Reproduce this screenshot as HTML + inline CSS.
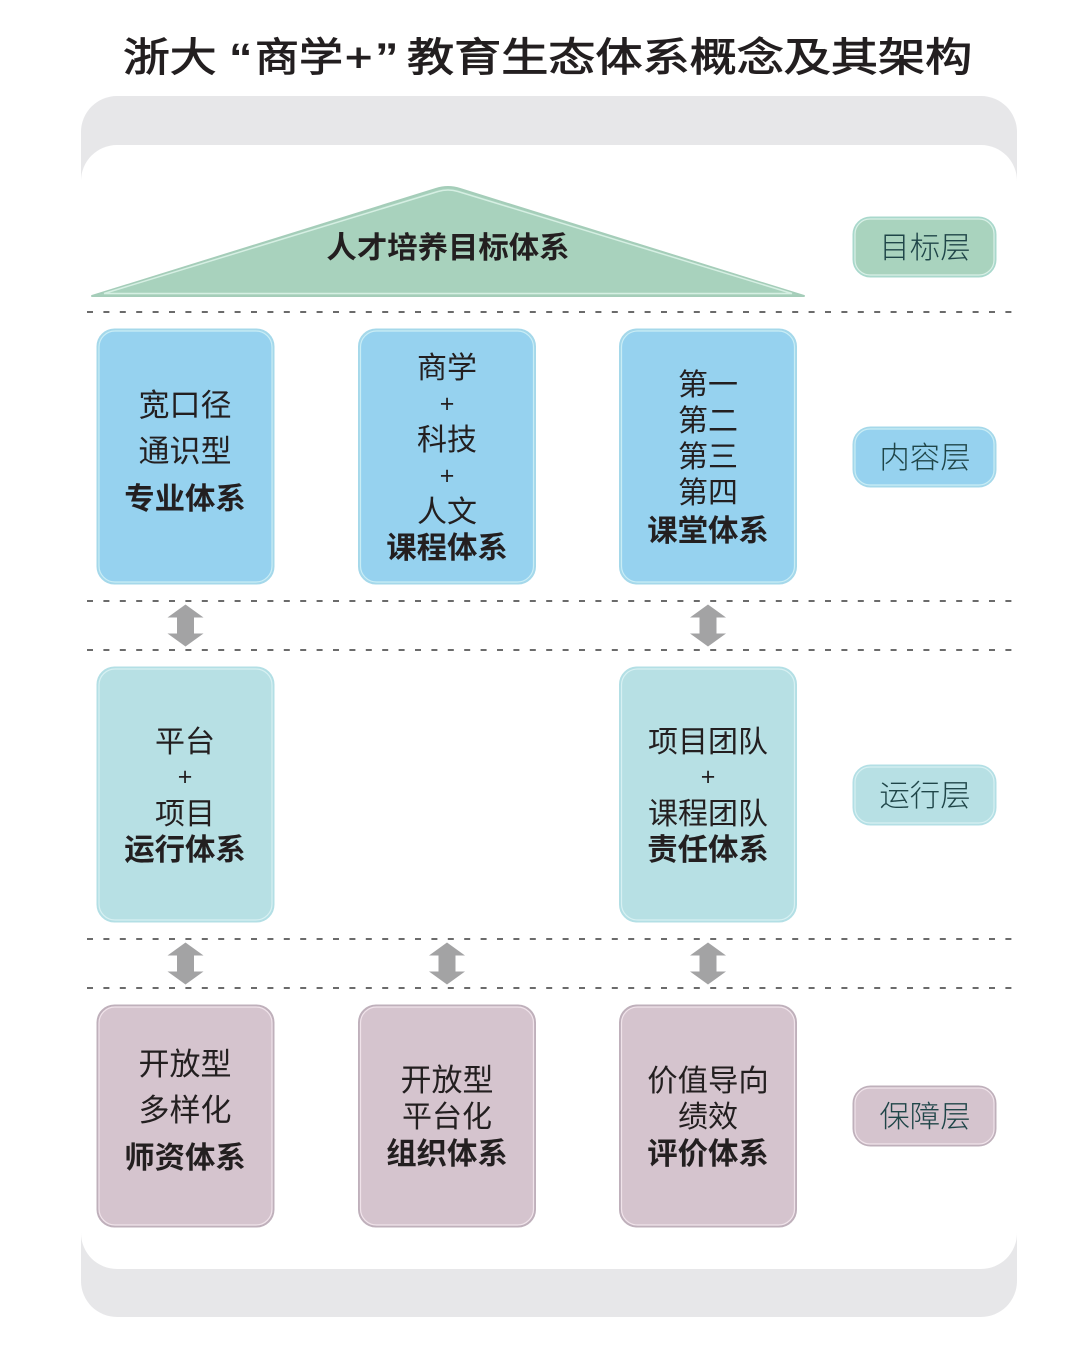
<!DOCTYPE html>
<html lang="zh-CN">
<head>
<meta charset="utf-8">
<title>浙大“商学+”教育生态体系概念及其架构</title>
<style>
html,body{margin:0;padding:0;background:#fff;width:1080px;height:1358px;overflow:hidden}
svg{display:block}
text{font-family:"Liberation Sans","Noto Sans CJK SC",sans-serif;text-anchor:middle;fill:#231f20;font-size:30px;font-weight:400}
.b{font-weight:700;font-size:30.400px}
.w{font-size:31px}
.p{font-size:25px}
.l{fill:#1f4548;font-weight:300;font-size:30.400px}
.t{font-size:40px;font-weight:400;text-anchor:start;fill:#231f20;stroke:#231f20;stroke-width:.9px}
.q{font-size:40px;font-weight:700;text-anchor:start;fill:#231f20}
.d{stroke:#3a3a3a;stroke-width:1.400;stroke-dasharray:6 10.400;fill:none}
</style>
</head>
<body>
<svg width="1080" height="1358" viewBox="0 0 1080 1358" xmlns="http://www.w3.org/2000/svg">
<defs>
<path id="arrow" d="M0 -21 L18 -8 L8.500 -8 L8.500 8 L18 8 L0 21 L-18 8 L-8.500 8 L-8.500 -8 L-18 -8 Z" fill="#a3a3a4"/>
</defs>

<text class="t" transform="translate(123 71) scale(1.170 1)">浙大</text>
<text class="q" transform="translate(229 71) scale(1.170 1)">“</text>
<text class="t" transform="translate(255 71) scale(1.100 1)">商学</text>
<text class="t" transform="translate(345 71) scale(1.170 1)">+</text>
<text class="q" transform="translate(375 71) scale(1.170 1)">”</text>
<text class="t" transform="translate(407 71) scale(1.178 1)">教育生态体系概念及其架构</text>

<rect x="81" y="96" width="936" height="1221" rx="36" fill="#e7e7e9"/>
<rect x="81" y="145" width="936" height="1124" rx="36" fill="#fff"/>

<line x1="87" y1="312" x2="1012" y2="312" class="d"/>
<line x1="87" y1="601" x2="1012" y2="601" class="d"/>
<line x1="87" y1="650" x2="1012" y2="650" class="d"/>
<line x1="87" y1="939" x2="1012" y2="939" class="d"/>
<line x1="87" y1="988" x2="1012" y2="988" class="d"/>

<!-- roof -->
<path d="M92 296 L436 189 Q448 185 460 189 L804 296 Z" fill="#a8d2bd" stroke="#a5cdb9" stroke-width="2" stroke-linejoin="round"/>
<path d="M104 293.500 L438 191.500 Q448 188.500 458 191.500 L792 293.500 Z" fill="none" stroke="#d6efe3" stroke-width="1.500"/>
<text x="448" y="258" class="b">人才培养目标体系</text>

<!-- content row -->
<g fill="#96d2ef" stroke="#a5d8ea" stroke-width="2">
<rect x="97.500" y="329.500" width="176" height="254" rx="17"/>
<rect x="359" y="329.500" width="176" height="254" rx="17"/>
<rect x="620" y="329.500" width="176" height="254" rx="17"/>
</g>
<g fill="none" stroke="#c9edf5" stroke-width="1.200">
<rect x="99" y="331" width="173" height="251" rx="16"/>
<rect x="360.500" y="331" width="173" height="251" rx="16"/>
<rect x="621.500" y="331" width="173" height="251" rx="16"/>
</g>

<text x="185" y="416" class="w">宽口径</text>
<text x="185" y="462" class="w">通识型</text>
<text x="185" y="509" class="b">专业体系</text>

<text x="447" y="378">商学</text>
<text x="447" y="412" class="p">+</text>
<text x="447" y="450">科技</text>
<text x="447" y="484" class="p">+</text>
<text x="447" y="522">人文</text>
<text x="447" y="558" class="b">课程体系</text>

<text x="708" y="395">第一</text>
<text x="708" y="431">第二</text>
<text x="708" y="467">第三</text>
<text x="708" y="503">第四</text>
<text x="708" y="541" class="b">课堂体系</text>

<!-- operation row -->
<g fill="#b7e0e4" stroke="#b3dfe5" stroke-width="2">
<rect x="97.500" y="667.500" width="176" height="254" rx="17"/>
<rect x="620" y="667.500" width="176" height="254" rx="17"/>
</g>
<g fill="none" stroke="#d7f0f2" stroke-width="1.200">
<rect x="99" y="669" width="173" height="251" rx="16"/>
<rect x="621.500" y="669" width="173" height="251" rx="16"/>
</g>

<text x="185" y="752">平台</text>
<text x="185" y="785" class="p">+</text>
<text x="185" y="824">项目</text>
<text x="185" y="860" class="b">运行体系</text>

<text x="708" y="752">项目团队</text>
<text x="708" y="785" class="p">+</text>
<text x="708" y="824">课程团队</text>
<text x="708" y="860" class="b">责任体系</text>

<!-- support row -->
<g fill="#d5c4ce" stroke="#bfb0bb" stroke-width="2">
<rect x="97.500" y="1005.500" width="176" height="221" rx="17"/>
<rect x="359" y="1005.500" width="176" height="221" rx="17"/>
<rect x="620" y="1005.500" width="176" height="221" rx="17"/>
</g>
<g fill="none" stroke="#f0e3ea" stroke-width="1.200">
<rect x="99" y="1007" width="173" height="218" rx="16"/>
<rect x="360.500" y="1007" width="173" height="218" rx="16"/>
<rect x="621.500" y="1007" width="173" height="218" rx="16"/>
</g>

<text x="185" y="1075" class="w">开放型</text>
<text x="185" y="1121" class="w">多样化</text>
<text x="185" y="1168" class="b">师资体系</text>

<text x="447" y="1091" class="w">开放型</text>
<text x="447" y="1127">平台化</text>
<text x="447" y="1164" class="b">组织体系</text>

<text x="708" y="1091" class="b" style="font-weight:400">价值导向</text>
<text x="708" y="1127">绩效</text>
<text x="708" y="1164" class="b">评价体系</text>

<!-- arrows -->
<use href="#arrow" x="185.500" y="625.500"/>
<use href="#arrow" x="708" y="625.500"/>
<use href="#arrow" x="185.500" y="963.500"/>
<use href="#arrow" x="447" y="963.500"/>
<use href="#arrow" x="708" y="963.500"/>

<!-- layer labels -->
<rect x="853.500" y="217.500" width="142" height="59" rx="17" fill="#a9d3be" stroke="#a9d8cc" stroke-width="2"/>
<rect x="855" y="219" width="139" height="56" rx="15" fill="none" stroke="#d9f0e6" stroke-width="1.200"/>
<text x="925" y="258" class="l">目标层</text>

<rect x="853.500" y="427.500" width="142" height="59" rx="17" fill="#96d2ef" stroke="#a5d8ea" stroke-width="2"/>
<rect x="855" y="429" width="139" height="56" rx="15" fill="none" stroke="#c9edf5" stroke-width="1.200"/>
<text x="925" y="468" class="l">内容层</text>

<rect x="853.500" y="765.500" width="142" height="59" rx="17" fill="#b7e0e4" stroke="#b3dfe5" stroke-width="2"/>
<rect x="855" y="767" width="139" height="56" rx="15" fill="none" stroke="#d7f0f2" stroke-width="1.200"/>
<text x="925" y="806" class="l">运行层</text>

<rect x="853.500" y="1086.500" width="142" height="59" rx="17" fill="#d5c4ce" stroke="#bfb0bb" stroke-width="2"/>
<rect x="855" y="1088" width="139" height="56" rx="15" fill="none" stroke="#f0e3ea" stroke-width="1.200"/>
<text x="925" y="1127" class="l">保障层</text>
</svg>
</body>
</html>
